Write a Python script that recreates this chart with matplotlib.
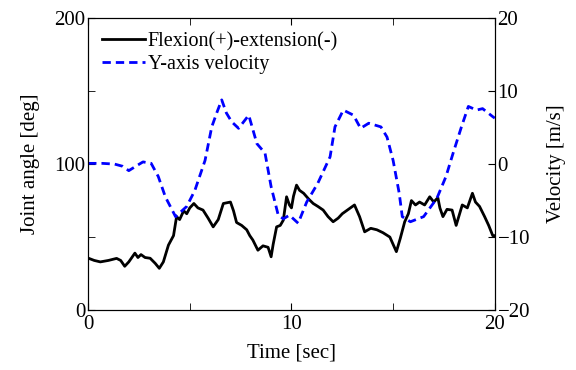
import matplotlib.pyplot as plt

plt.rcParams['font.family'] = ['Liberation Serif', 'DejaVu Serif']

# joint angle [deg] vs time [sec]
t_angle = [0.0, 0.3, 0.6, 1.0, 1.4, 1.6, 1.8, 2.0, 2.3, 2.45, 2.6, 2.8, 3.05, 3.3, 3.5,
           3.7, 3.95, 4.2, 4.35, 4.5, 4.7, 4.85, 5.0, 5.2, 5.4, 5.65, 5.9, 6.15, 6.4,
           6.65, 7.0, 7.15, 7.3, 7.55, 7.8, 7.95, 8.1, 8.35, 8.6, 8.85, 9.0, 9.1, 9.27,
           9.45, 9.6, 9.76, 9.9, 10.0, 10.1, 10.25, 10.4, 10.6, 10.85, 11.07, 11.3,
           11.56, 11.8, 12.05, 12.3, 12.5, 12.8, 13.1, 13.35, 13.6, 13.9, 14.2, 14.5,
           14.84, 15.0, 15.16, 15.35, 15.57, 15.75, 15.9, 16.1, 16.3, 16.55, 16.8, 17.0,
           17.2, 17.3, 17.45, 17.65, 17.9, 18.1, 18.25, 18.4, 18.65, 18.9, 19.05, 19.25,
           19.5, 19.7, 19.9, 20.0]
angle = [35.6, 34, 33, 34, 35.4, 34, 30, 33, 39, 36, 38, 36, 35.5, 32, 28.6,
         33, 44.5, 51, 64, 62, 68, 66, 70, 73, 70, 68.5, 63, 57, 62,
         73, 74, 68, 60, 58, 55, 51, 48, 41, 44, 43, 36.5, 45, 57,
         58, 61.6, 77.6, 72, 70, 78, 85.6, 82, 80, 76, 73, 71,
         68.5, 64, 60.5, 63, 66, 69, 72, 64, 53.6, 56, 55, 53,
         50, 45, 40, 49, 60.5, 66, 75, 72, 74, 72, 77.6, 74,
         77, 70, 64, 69, 68.5, 58, 65, 72, 70, 80, 74, 71,
         64, 58, 51, 51]

# Y-axis velocity [m/s] vs time [sec]
t_vel = [0.0, 0.7, 1.3, 1.7, 2.0, 2.4, 2.7, 3.1, 3.45, 3.8, 4.3, 4.85, 5.25, 5.75,
         6.08, 6.35, 6.57, 6.8, 7.06, 7.4, 7.9, 8.3, 8.7, 9.0, 9.35, 9.6, 9.9,
         10.33, 10.75, 11.3, 11.9, 12.14, 12.55, 13.05, 13.4, 13.8, 14.4, 14.7,
         15.0, 15.3, 15.45, 15.85, 16.5, 17.15, 17.6, 17.95, 18.36, 18.7, 19.1,
         19.4, 19.9, 20.0]
velocity = [0.1, 0.1, 0.0, -0.3, -0.9, -0.2, 0.3, 0.1, -1.7, -4.5, -7.2, -5.8, -3.6, 0.5,
            5.1, 7.2, 8.8, 7.0, 5.8, 4.9, 6.7, 2.8, 1.5, -3.1, -7.0, -7.5, -7.0,
            -8.1, -5.2, -2.6, 1.0, 5.1, 7.4, 6.7, 4.9, 5.6, 5.1, 3.7,
            0.5, -4.0, -7.2, -7.9, -7.2, -4.7, -1.7, 1.5, 5.1, 7.9, 7.4,
            7.6, 6.5, 6.3]

fig = plt.figure(figsize=(5.76, 3.70), dpi=100)
ax1 = fig.add_axes([0.153, 0.162, 0.706, 0.789])
ax2 = ax1.twinx()

l1, = ax1.plot(t_angle, angle, color='black', lw=2, label='Flexion(+)-extension(-)')
l2, = ax2.plot(t_vel, velocity, color='blue', lw=2, ls=(0, (3, 1.8)), label='Y-axis velocity')

ax1.set_xlim(0, 20)
ax1.set_ylim(0, 200)
ax2.set_ylim(-20, 20)
ax1.set_xticks([0, 10, 20])
ax1.set_xticks([5, 15], minor=True)
ax1.set_yticks([0, 100, 200])
ax1.set_yticks([50, 150], minor=True)
ax2.set_yticks([-20, -10, 0, 10, 20])
ax1.tick_params(which='both', direction='in', labelsize=15, top=True, length=5)
ax1.tick_params(axis='x', pad=3.5)
ax1.tick_params(axis='y', pad=2)
ax2.tick_params(direction='in', labelsize=15, length=5, pad=2)

ax1.set_xlabel('Time [sec]', fontsize=15, labelpad=7)
ax1.set_ylabel('Joint angle [deg]', fontsize=15, labelpad=10)
ax2.set_ylabel('Velocity [m/s]', fontsize=15, labelpad=12)

ax2.legend(handles=[l1, l2], loc='upper left', frameon=False, fontsize=14.5,
           handlelength=2.1, handletextpad=0.15, borderaxespad=0.3, labelspacing=0.15)

plt.savefig('out.png')
